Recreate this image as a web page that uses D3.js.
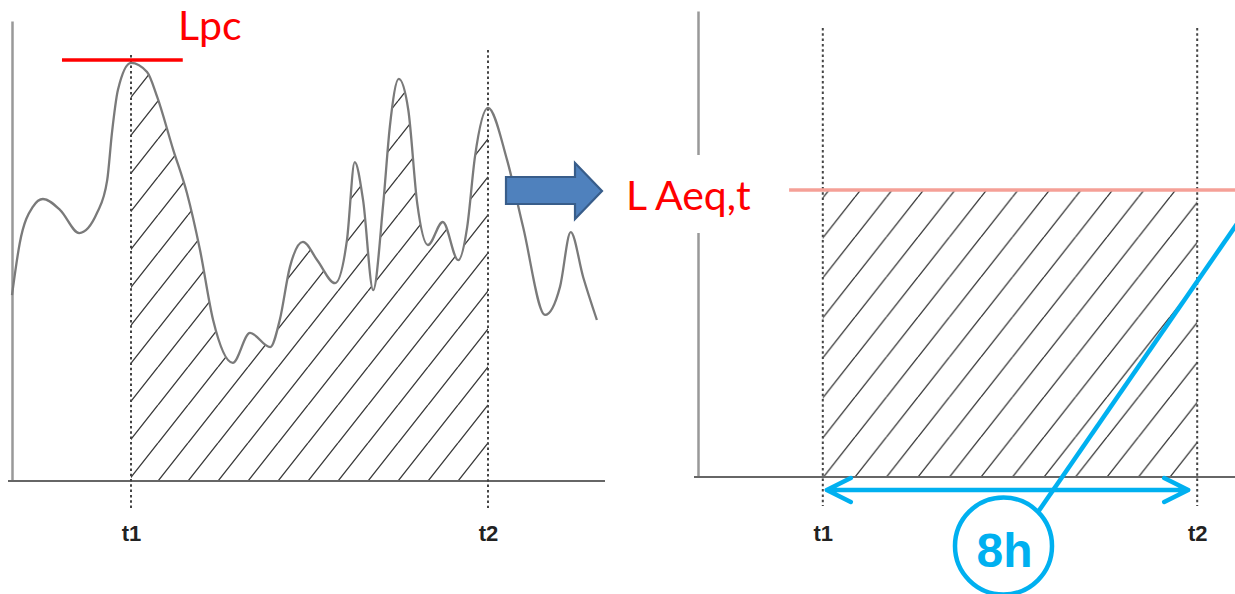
<!DOCTYPE html>
<html>
<head>
<meta charset="utf-8">
<script src="https://cdn.jsdelivr.net/npm/d3@7"></script>
<style>
  body { margin: 0; background: #fff; }
  svg { display: block; }
  .tick-label text { font-family: "Liberation Sans", Arial, sans-serif; font-weight: bold; font-size: 22px; fill: #222; }
  .red-label { font-family: Lato, "Open Sans", sans-serif; font-size: 41px; fill: #ff0000; }
</style>
</head>
<body>
<div class="svg-container"></div>
<script>
// sound level trace (left panel), time in arbitrary units, level in %
const traceTimes = [0, 0.13, 0.35, 0.52, 0.81, 1.13, 1.43, 1.60, 1.68, 1.78, 2.0, 2.27, 2.44, 2.71, 2.94,
  3.16, 3.38, 3.71, 4.0, 4.34, 4.5, 4.67, 4.89, 5.13, 5.43, 5.63, 5.76, 5.9, 6.07, 6.24, 6.35, 6.5,
  6.66, 6.81, 6.99, 7.24, 7.5, 7.65, 7.78, 8.0, 8.32, 8.59, 8.96, 9.21, 9.39, 9.6, 9.83];
const traceLevels = [40.4, 51.7, 59.6, 61.3, 58.9, 53.9, 58.3, 65.4, 75.7, 85.0, 90.9, 88.9, 83.5, 72.0, 62.6,
  50.2, 35.0, 25.7, 32.2, 29.1, 35.0, 46.5, 52.0, 48.0, 43.0, 52.4, 69.3, 61.1, 41.5, 60.4, 77.0, 87.4,
  80.7, 60.4, 51.3, 56.3, 48.0, 55.2, 70.4, 81.1, 69.8, 55.2, 36.1, 42.2, 54.1, 44.3, 35.0];

const tickTimes = [2, 8];
const tickLabels = ["t1", "t2"];
const lpcLevel = 91.5;
const lpcSpan = [0.84, 2.87];
const laeqLevel = 61.6;
const laeqStart = 1.46;
const durationLabel = "8h";

const trace = traceTimes.map(function(t, i) { return {t: t, v: traceLevels[i]}; });

const width = 1235, height = 594;
const svg = d3.select(".svg-container").append("svg")
  .attr("width", width)
  .attr("height", height);

// scales: left panel and right panel
const xL = d3.scaleLinear().domain([0, 10]).range([12, 607]);
const yL = d3.scaleLinear().domain([0, 100]).range([481, 21]);
const xR = d3.scaleLinear().domain([0, 10]).range([698, 1322]);
const yR = d3.scaleLinear().domain([0, 100]).range([477, 11]);

const defs = svg.append("defs");

function hatch(id, w, h, x0, y0) {
  defs.append("pattern")
    .attr("id", id)
    .attr("patternUnits", "userSpaceOnUse")
    .attr("width", w).attr("height", h)
    .attr("x", x0).attr("y", y0 - h)
    .append("path")
    .attr("d", "M" + (-w) + "," + h + "L0,0M0," + h + "L" + w + ",0M" + w + "," + h + "L" + (2 * w) + ",0")
    .attr("stroke", "#3a3a3a")
    .attr("stroke-width", 1.35)
    .attr("fill", "none");
}
hatch("hatchL", 30, 38, 158, 481);
hatch("hatchR", 31.5, 40, 855, 477);

defs.append("clipPath").attr("id", "clipL")
  .append("rect")
  .attr("x", xL(tickTimes[0])).attr("y", 0)
  .attr("width", xL(tickTimes[1]) - xL(tickTimes[0])).attr("height", height);

function yAxisStyle(g) {
  g.select(".domain").attr("stroke", "#999").attr("stroke-width", 2.5);
}

function xAxisStyle(x0, x1) {
  return function(g) {
    g.select(".domain").attr("stroke", "#666").attr("stroke-width", 2).attr("d", "M" + x0 + ",0H" + x1);
    g.selectAll("text").attr("font-family", null).attr("font-size", null);
  };
}

function guides(g, x, y1s, y2) {
  g.selectAll("line.guide")
    .data(tickTimes)
    .enter().append("line")
    .attr("class", "guide")
    .attr("x1", function(d) { return x(d); })
    .attr("x2", function(d) { return x(d); })
    .attr("y1", function(d, i) { return y1s[i]; })
    .attr("y2", y2)
    .attr("stroke", "#444")
    .attr("stroke-width", 2)
    .attr("stroke-dasharray", "2.5,2.8");
}

// ---------- left panel ----------
const left = svg.append("g").attr("class", "left-panel");

left.append("path")
  .datum(trace)
  .attr("clip-path", "url(#clipL)")
  .attr("fill", "url(#hatchL)")
  .attr("d", d3.area().curve(d3.curveMonotoneX)
    .x(function(d) { return xL(d.t); })
    .y0(yL(0))
    .y1(function(d) { return yL(d.v); }));

left.append("g")
  .attr("transform", "translate(" + xL(0) + ",0)")
  .call(d3.axisLeft(yL).tickValues([]).tickSizeOuter(0))
  .call(yAxisStyle);

left.append("g")
  .attr("class", "tick-label")
  .attr("transform", "translate(0," + yL(0) + ")")
  .call(d3.axisBottom(xL).tickValues(tickTimes).tickSize(0).tickSizeOuter(0).tickPadding(44)
    .tickFormat(function(d, i) { return tickLabels[i]; }))
  .call(xAxisStyle(xL(0) - 4, 605));

guides(left, xL, [55, 50], 508);

left.append("path")
  .datum(trace)
  .attr("fill", "none")
  .attr("stroke", "#7a7a7a")
  .attr("stroke-width", 2.3)
  .attr("d", d3.line().curve(d3.curveMonotoneX)
    .x(function(d) { return xL(d.t); })
    .y(function(d) { return yL(d.v); }));

left.append("line")
  .attr("x1", xL(lpcSpan[0])).attr("x2", xL(lpcSpan[1]))
  .attr("y1", yL(lpcLevel)).attr("y2", yL(lpcLevel))
  .attr("stroke", "#ff0000")
  .attr("stroke-width", 3.5);

left.append("text")
  .attr("class", "red-label")
  .attr("x", 178).attr("y", 40)
  .text("Lpc");

// ---------- block arrow between panels ----------
svg.append("path")
  .attr("d", "M506,177H575V163L602,191L575,219V204H506Z")
  .attr("fill", "#4f81bd")
  .attr("stroke", "#385d8a")
  .attr("stroke-width", 2.2)
  .attr("stroke-linejoin", "miter");

// ---------- right panel ----------
const right = svg.append("g").attr("class", "right-panel");

right.append("rect")
  .attr("x", xR(tickTimes[0])).attr("y", yR(laeqLevel))
  .attr("width", xR(tickTimes[1]) - xR(tickTimes[0]))
  .attr("height", yR(0) - yR(laeqLevel))
  .attr("fill", "url(#hatchR)");

right.append("g")
  .attr("transform", "translate(" + xR(0) + ",0)")
  .call(d3.axisLeft(yR).tickValues([]).tickSizeOuter(0))
  .call(yAxisStyle);

right.append("g")
  .attr("class", "tick-label")
  .attr("transform", "translate(0," + yR(0) + ")")
  .call(d3.axisBottom(xR).tickValues(tickTimes).tickSize(0).tickSizeOuter(0).tickPadding(48)
    .tickFormat(function(d, i) { return tickLabels[i]; }))
  .call(xAxisStyle(xR(0) - 4, width));

guides(right, xR, [28, 28], 506);

right.append("line")
  .attr("x1", xR(laeqStart)).attr("x2", width)
  .attr("y1", yR(laeqLevel)).attr("y2", yR(laeqLevel))
  .attr("stroke", "#f5a097")
  .attr("stroke-width", 3.5);

// label box hides the y axis behind the text
right.append("rect")
  .attr("x", 615).attr("y", 155)
  .attr("width", 160).attr("height", 78)
  .attr("fill", "#fff");

right.append("text")
  .attr("class", "red-label")
  .attr("x", 626).attr("y", 210)
  .text("L Aeq,t");

// duration arrow t1 <-> t2
const arrowY = 490;
const a0 = xR(tickTimes[0]) + 4, a1 = xR(tickTimes[1]) - 9;
const blue = "#00b0f0";
right.append("path")
  .attr("d", "M" + a0 + "," + arrowY + "H" + a1 +
    "M" + (a0 + 24) + "," + (arrowY - 12) + "L" + a0 + "," + arrowY + "L" + (a0 + 24) + "," + (arrowY + 12) +
    "M" + (a1 - 24) + "," + (arrowY - 12) + "L" + a1 + "," + arrowY + "L" + (a1 - 24) + "," + (arrowY + 12))
  .attr("fill", "none")
  .attr("stroke", blue)
  .attr("stroke-width", 4.5)
  .attr("stroke-linecap", "round")
  .attr("stroke-linejoin", "round");

// callout
const cx = 1003.5, cy = 546, cr = 48.5;
right.append("line")
  .attr("x1", 1038).attr("y1", 512)
  .attr("x2", 1250).attr("y2", 205)
  .attr("stroke", blue)
  .attr("stroke-width", 4.5);

right.append("circle")
  .attr("cx", cx).attr("cy", cy).attr("r", cr)
  .attr("fill", "#fff")
  .attr("stroke", blue)
  .attr("stroke-width", 4.5);

right.append("text")
  .attr("x", cx + 1).attr("y", 567)
  .attr("text-anchor", "middle")
  .attr("font-family", "Liberation Sans, Arial, sans-serif")
  .attr("font-weight", "bold")
  .attr("font-size", 48)
  .attr("fill", blue)
  .text(durationLabel);
</script>
</body>
</html>
